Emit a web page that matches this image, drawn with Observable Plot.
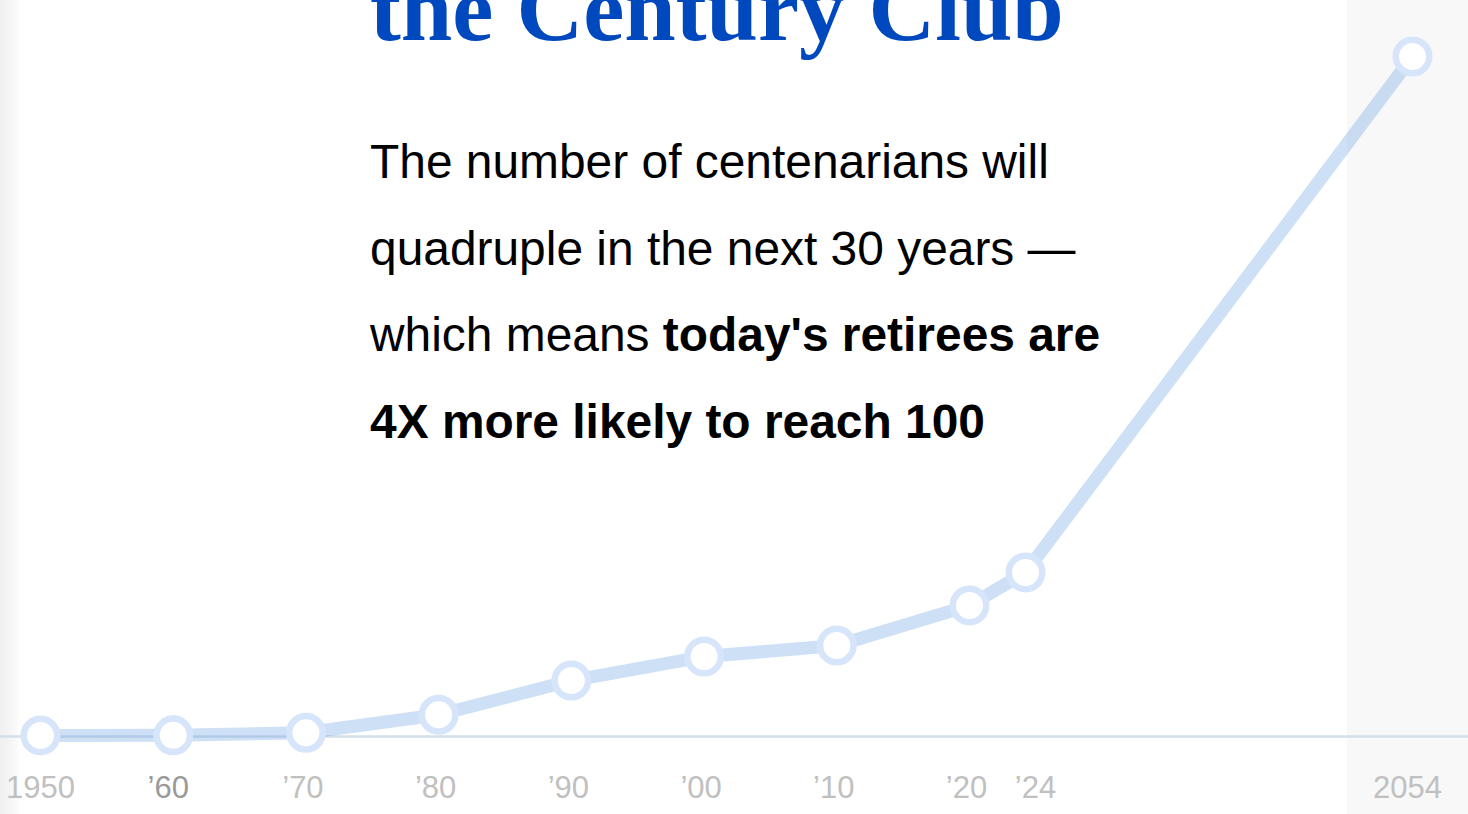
<!DOCTYPE html>
<html>
<head>
<meta charset="utf-8">
<script src="https://cdn.jsdelivr.net/npm/d3@7"></script>
<script src="https://cdn.jsdelivr.net/npm/@observablehq/plot@0.6"></script>
<style>
  html, body { margin: 0; padding: 0; overflow: hidden; background: #fff; }
  #wrap {
    position: relative; width: 1468px; height: 814px; overflow: hidden;
    background: linear-gradient(to right, #f0f0f0 0px, #f4f4f4 8px, #f8f8f8 14px, #fdfdfd 19px, #ffffff 22px, #ffffff 1347px, #f8f8f8 1347px, #f8f8f8 1468px);
  }
  #chart { position: absolute; left: 0; top: 0; }
  #title {
    position: absolute; left: 370px; top: -37px; margin: 0;
    font-family: "Liberation Serif", "DejaVu Serif", serif; font-weight: bold;
    font-size: 92.5px; line-height: 1; color: #0048bd; white-space: nowrap;
  }
  #para {
    position: absolute; left: 370px; top: 119px; margin: 0;
    font-family: "Liberation Sans", Arial, sans-serif; font-size: 47.9px;
    line-height: 86.5px; color: #000; white-space: nowrap;
  }
  #para b { font-weight: bold; }
</style>
</head>
<body>
<div id="wrap">
  <div id="chart"></div>
  <div id="title">the Century Club</div>
  <div id="para">The number of centenarians will<br>quadruple in the next 30 years —<br>which means <b>today's retirees are</b><br><b>4X more likely to reach 100</b></div>
</div>
<script>
// Data (centenarians, thousands)
const years = [1950, 1960, 1970, 1980, 1990, 2000, 2010, 2020, 2024, 2054];
const centenarians = [6, 7, 22, 128, 329, 470, 535, 771, 965, 4000];
const tickLabels = ["1950", "’60", "’70", "’80", "’90", "’00", "’10", "’20", "’24", "2054"];

const data = years.map((year, i) => ({year, value: centenarians[i]}));
const labelOf = new Map(years.map((y, i) => [y, tickLabels[i]]));
const fmt = d => labelOf.get(d);

const shortYears = [1970, 1980, 1990, 2000, 2010, 2020];
const axisCommon = {tickSize: 0, tickPadding: 39, fontSize: 31, tickFormat: fmt, label: null};

const chart = Plot.plot({
  width: 1468,
  height: 814,
  marginLeft: 0,
  marginRight: 0,
  marginTop: 0,
  marginBottom: 78,
  style: {background: "transparent", fontFamily: "'Liberation Sans', Arial, sans-serif", overflow: "visible"},
  x: {type: "linear", domain: [1950, 2020, 2024, 2054], range: [40, 969, 1025, 1412]},
  y: {domain: [0, 4000], range: [736, 56], axis: null},
  marks: [
    Plot.ruleY([0], {stroke: "#d3dfe9", strokeWidth: 2.5}),
    Plot.line(data, {x: "year", y: "value", stroke: "rgb(115,165,228)", strokeOpacity: 0.35, strokeWidth: 13, strokeLinejoin: "round"}),
    Plot.dot(data, {x: "year", y: "value", r: 16.75, fill: "white", stroke: "#d7e5fb", strokeWidth: 6.5}),
    Plot.axisX({...axisCommon, ticks: [1950], fill: "#c0c0c0"}),
    Plot.axisX({...axisCommon, ticks: [2054], fill: "#c0c0c0", dx: -5}),
    Plot.axisX({...axisCommon, ticks: shortYears, fill: "#c0c0c0", dx: -3}),
    Plot.axisX({...axisCommon, ticks: [1960], fill: "#9a9a9a", dx: -5}),
    Plot.axisX({...axisCommon, ticks: [2024], fill: "#c0c0c0", dx: 10})
  ]
});
document.getElementById("chart").appendChild(chart);
</script>
</body>
</html>
